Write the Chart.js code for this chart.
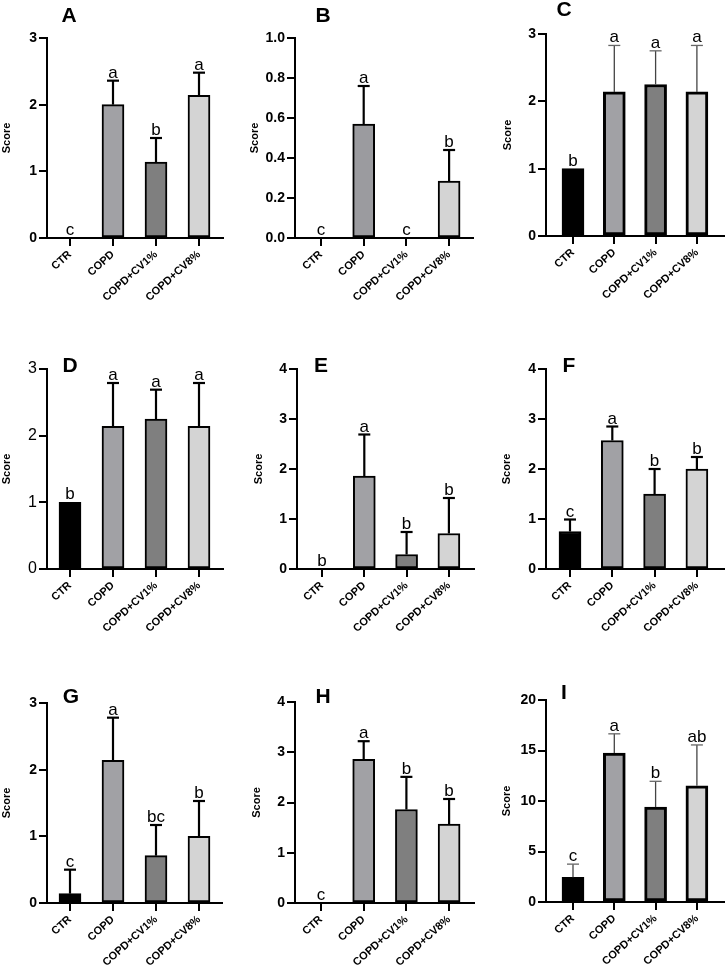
<!DOCTYPE html>
<html>
<head>
<meta charset="utf-8">
<script src="https://cdn.jsdelivr.net/npm/chart.js@4.4.1/dist/chart.umd.min.js"></script>
<style>
  html, body { margin: 0; padding: 0; background: #fff; }
  #wrap { position: relative; width: 725px; height: 971px; overflow: hidden; }
  #wrap canvas { position: absolute; }
</style>
</head>
<body>
<div id="wrap"></div>
<script>
// groups on the x axis
const groups = ["CTR", "COPD", "COPD+CV1%", "COPD+CV8%"];
const barColors = ["#000000", "#a1a1a5", "#7f7f7f", "#d4d4d4"];

// means, SD (top of the error bar minus the mean) and letters, per panel
const meansA = [0, 2.0, 1.14, 2.14];
const sdA = [0, 0.36, 0.36, 0.34];
const lettersA = ["c", "a", "b", "a"];

const meansB = [0, 0.57, 0, 0.285];
const sdB = [0, 0.19, 0, 0.155];
const lettersB = ["c", "a", "c", "b"];

const meansC = [1.0, 2.14, 2.25, 2.14];
const sdC = [0, 0.69, 0.5, 0.69];
const lettersC = ["b", "a", "a", "a"];

const meansD = [1.0, 2.14, 2.25, 2.14];
const sdD = [0, 0.65, 0.44, 0.65];
const lettersD = ["b", "a", "a", "a"];

const meansE = [0, 1.86, 0.29, 0.71];
const sdE = [0, 0.83, 0.45, 0.71];
const lettersE = ["b", "a", "b", "b"];

const meansF = [0.75, 2.57, 1.5, 2.0];
const sdF = [0.24, 0.28, 0.5, 0.24];
const lettersF = ["c", "a", "b", "b"];

const meansG = [0.14, 2.14, 0.71, 1.0];
const sdG = [0.36, 0.64, 0.46, 0.53];
const lettersG = ["c", "a", "bc", "b"];

const meansH = [0, 2.86, 1.86, 1.57];
const sdH = [0, 0.36, 0.65, 0.5];
const lettersH = ["c", "a", "b", "b"];

const meansI = [2.45, 14.75, 9.4, 11.5];
const sdI = [1.3, 1.9, 2.55, 4.05];
const lettersI = ["c", "a", "b", "ab"];

// y axis ranges
const yMaxes = { A: 3, B: 1, C: 3, D: 3, E: 4, F: 4, G: 3, H: 4, I: 20 };
const ySteps = { A: 1, B: 0.2, C: 1, D: 1, E: 1, F: 1, G: 1, H: 1, I: 5 };

const FONT = "'Liberation Sans', Arial, sans-serif";

// panel placement on the page: canvas box, plot box, first bar centre and spacing
const panels = [
	{ id: "A", cx: 0, cy: 0, w: 242, h: 320, L: 47, R: 223, T: 38, B: 238, c0: 70, s: 43, scoreX: 6, tx: 69, ty: 16, data: [meansA, sdA, lettersA] },
	{ id: "B", cx: 242, cy: 0, w: 242, h: 320, L: 295, R: 473, T: 38, B: 238, c0: 321, s: 42.7, scoreX: 255, tx: 323, ty: 16, data: [meansB, sdB, lettersB], dec: 1, copd: "#9b9b9f" },
	{ id: "C", cx: 484, cy: 0, w: 241, h: 320, L: 546, R: 725, T: 34, B: 236, c0: 573, s: 41.3, scoreX: 508, tx: 564, ty: 10, data: [meansC, sdC, lettersC], thin: true, bw: 3 },
	{ id: "D", cx: 0, cy: 320, w: 242, h: 320, L: 47, R: 223, T: 369, B: 569, c0: 70, s: 43, scoreX: 5, tx: 70, ty: 366, data: [meansD, sdD, lettersD], light: true },
	{ id: "E", cx: 242, cy: 320, w: 242, h: 320, L: 297, R: 474, T: 369, B: 569, c0: 322, s: 42.3, scoreX: 259, tx: 321, ty: 366, data: [meansE, sdE, lettersE] },
	{ id: "F", cx: 484, cy: 320, w: 241, h: 320, L: 546, R: 725, T: 369, B: 569, c0: 570, s: 42.3, scoreX: 507, tx: 569, ty: 366, data: [meansF, sdF, lettersF] },
	{ id: "G", cx: 0, cy: 640, w: 242, h: 331, L: 47, R: 222, T: 703, B: 903, c0: 70, s: 43, scoreX: 7, tx: 71, ty: 697, data: [meansG, sdG, lettersG] },
	{ id: "H", cx: 242, cy: 640, w: 242, h: 331, L: 295, R: 474, T: 702, B: 903, c0: 321, s: 42.7, scoreX: 257, tx: 323, ty: 697, data: [meansH, sdH, lettersH] },
	{ id: "I", cx: 484, cy: 640, w: 241, h: 331, L: 546, R: 725, T: 700, B: 902, c0: 573, s: 41.3, scoreX: 507, tx: 564, ty: 693, data: [meansI, sdI, lettersI], thin: true, bw: 3 },
];

// error bars, significance letters and the panel letter
const errBars = {
	id: "errbars",
	afterDatasetsDraw(chart, args, o) {
		const { ctx } = chart;
		const x = chart.scales.x, y = chart.scales.y;
		ctx.save();
		o.means.forEach((m, i) => {
			const px = x.getPixelForValue(i);
			const y0 = y.getPixelForValue(m);
			const y1 = y.getPixelForValue(m + o.sd[i]);
			if (o.sd[i] > 0) {
				ctx.strokeStyle = o.color;
				ctx.lineWidth = o.width;
				ctx.beginPath();
				ctx.moveTo(px, y0);
				ctx.lineTo(px, y1);
				ctx.stroke();
				ctx.strokeStyle = o.capColor;
				ctx.beginPath();
				ctx.moveTo(px - 6, y1);
				ctx.lineTo(px + 6, y1);
				ctx.stroke();
			}
			ctx.fillStyle = "#000";
			ctx.font = "17px " + FONT;
			ctx.textAlign = "center";
			ctx.textBaseline = "alphabetic";
			ctx.fillText(o.letters[i], px, y1 - 3);
		});
		ctx.font = "bold 21px " + FONT;
		ctx.textBaseline = "middle";
		ctx.fillText(o.title, o.tx, o.ty);
		ctx.restore();
	},
};

const wrap = document.getElementById("wrap");

panels.forEach((p) => {
	const c = document.createElement("canvas");
	c.width = p.w;
	c.height = p.h;
	c.style.left = p.cx + "px";
	c.style.top = p.cy + "px";
	wrap.appendChild(c);

	const [means, sd, letters] = p.data;
	const colors = barColors.slice();
	if (p.copd) colors[1] = p.copd;
	const tickFont = p.light ? { family: FONT, size: 16 } : { family: FONT, size: 14, weight: "bold" };

	new Chart(c.getContext("2d"), {
		type: "bar",
		data: {
			datasets: [
				{
					data: means.map((v, i) => ({ x: i, y: v })),
					backgroundColor: colors,
					borderColor: "#000",
					borderWidth: p.bw || 2,
					borderSkipped: false,
					barThickness: 22,
				},
			],
		},
		options: {
			responsive: false,
			animation: false,
			devicePixelRatio: 1,
			layout: { padding: { left: 0, right: p.cx + p.w - p.R, top: p.T - p.cy, bottom: 0 } },
			plugins: {
				legend: { display: false },
				tooltip: { enabled: false },
				errbars: {
					means: means,
					sd: sd,
					letters: letters,
					color: p.thin ? "#444" : "#000",
					capColor: p.thin ? "#666" : "#000",
					width: p.thin ? 1.3 : 2.2,
					title: p.id,
					tx: p.tx - p.cx,
					ty: p.ty - p.cy,
				},
			},
			scales: {
				x: {
					type: "linear",
					offset: false,
					min: (p.L - p.c0) / p.s,
					max: (p.R - p.c0) / p.s,
					afterBuildTicks: (s) => {
						s.ticks = groups.map((g, i) => ({ value: i }));
					},
					afterFit: (s) => {
						s.height = p.cy + p.h - p.B;
					},
					grid: { offset: false, drawOnChartArea: false, drawTicks: true, tickLength: 8, color: "#000", lineWidth: 2 },
					border: { color: "#000", width: 2 },
					ticks: {
						autoSkip: false,
						minRotation: 42,
						maxRotation: 42,
						padding: 2,
						color: "#000",
						font: { family: FONT, size: 11, weight: "bold" },
						callback: (v) => groups[v],
					},
				},
				y: {
					min: 0,
					max: yMaxes[p.id],
					afterFit: (s) => {
						s.width = p.L - p.cx;
					},
					grid: { drawOnChartArea: false, drawTicks: true, tickLength: 8, color: "#000", lineWidth: 2 },
					border: { color: "#000", width: 2 },
					ticks: {
						stepSize: ySteps[p.id],
						padding: 2,
						color: "#000",
						font: tickFont,
						callback: (v) => (p.dec ? v.toFixed(1) : String(v)),
					},
					title: {
						display: true,
						text: "Score",
						color: "#000",
						font: { family: FONT, size: 11, weight: "bold" },
						padding: { top: Math.max(0, p.scoreX - p.cx - 6.6), bottom: 0 },
					},
				},
			},
		},
		plugins: [errBars],
	});
});
</script>
</body>
</html>
